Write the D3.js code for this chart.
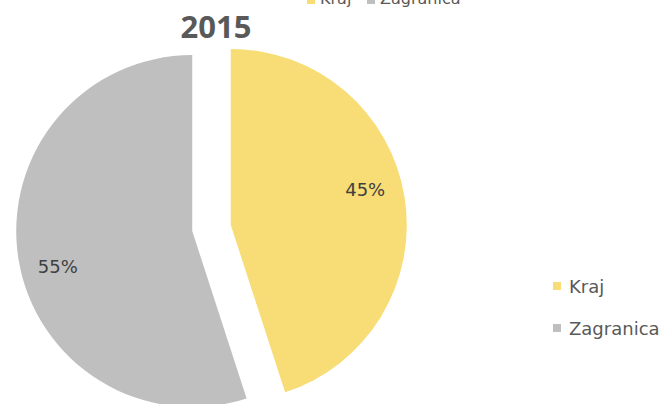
<!DOCTYPE html>
<html><head><meta charset="utf-8">
<script src="https://cdn.jsdelivr.net/npm/d3@7"></script>
<style>body{margin:0;background:#fff}svg{display:block;font-family:"DejaVu Sans",sans-serif}</style>
</head><body>
<svg id="c" width="665" height="404"></svg>
<script>
const categories = ["Kraj", "Zagranica"];
const values = [45, 55];
const colors = ["#F8DC75", "#BFBFBF"];
const title = "2015";

const svg = d3.select("#c");
const cx = 211.5, cy = 228, R = 176, explode = 19.5;
const pie = d3.pie().sort(null).value(d => d.v);
const arcs = pie(categories.map((c, i) => ({c, v: values[i], col: colors[i]})));
const arc = d3.arc().innerRadius(0).outerRadius(R);
const total = d3.sum(values);

const g = svg.append("g").attr("transform", `translate(${cx},${cy})`);
arcs.forEach(a => {
  const mid = (a.startAngle + a.endAngle) / 2;
  const ox = explode * Math.sin(mid), oy = -explode * Math.cos(mid);
  const s = g.append("g").attr("transform", `translate(${ox},${oy})`);
  s.append("path").attr("d", arc(a)).attr("fill", a.data.col);
  const la = mid - 0.1, lr = 139;
  s.append("text").attr("x", lr * Math.sin(la)).attr("y", -lr * Math.cos(la))
    .attr("text-anchor", "middle").attr("dominant-baseline", "central")
    .attr("font-size", 18).attr("fill", "#404040")
    .text(Math.round(a.data.v / total * 100) + "%");
});

svg.append("text").attr("x", 216).attr("y", 38).attr("text-anchor", "middle")
  .attr("font-family", "'Open Sans',sans-serif")
  .attr("font-size", 31).attr("font-weight", "bold").attr("fill", "#595959").text(title);

// top legend (cut off at the top edge)
const topX = [307, 367];
categories.forEach((c, i) => {
  svg.append("rect").attr("x", topX[i]).attr("y", -4).attr("width", 8).attr("height", 8).attr("fill", colors[i]);
  svg.append("text").attr("x", topX[i] + 13).attr("y", 4).attr("font-size", 16).attr("fill", "#595959").text(c);
});

// right legend
categories.forEach((c, i) => {
  const y = 286 + i * 42;
  svg.append("rect").attr("x", 553).attr("y", y - 4).attr("width", 8).attr("height", 8).attr("fill", colors[i]);
  svg.append("text").attr("x", 569).attr("y", y).attr("dominant-baseline", "central")
    .attr("font-size", 18).attr("fill", "#595959").text(c);
});
</script>
</body></html>
